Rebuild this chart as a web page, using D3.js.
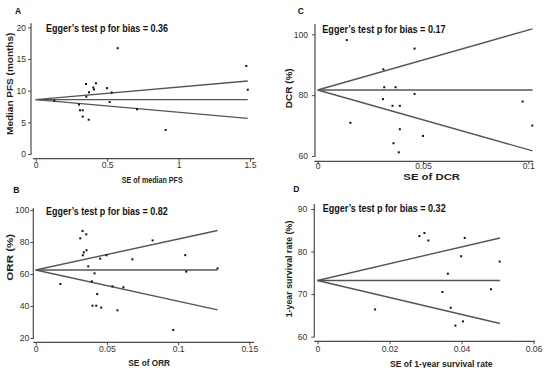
<!DOCTYPE html>
<html>
<head>
<meta charset="utf-8">
<script src="https://cdn.jsdelivr.net/npm/d3@7"></script>
<style>
body{margin:0;background:#fff;}
text{font-family:"Liberation Sans",Arial,sans-serif;}
</style>
</head>
<body>
<svg width="550" height="368"></svg>
<script>
// ---- data ----
// A: median PFS
var seA  = [0.574,1.474,1.484,0.352,0.422,0.373,0.403,0.408,0.499,0.354,0.532,0.518,0.130,0.303,0.310,0.329,0.329,0.371,0.709,0.910];
var pfsA = [16.7,13.9,10.15,11.05,11.16,9.74,10.5,10.2,10.4,9.05,9.7,8.2,8.42,7.8,6.9,6.9,5.9,5.42,7.05,3.8];
// B: ORR
var seB  = [0.0329,0.0355,0.0313,0.0357,0.0338,0.0331,0.0453,0.0497,0.0679,0.0821,0.105,0.1057,0.1277,0.0369,0.0413,0.0173,0.0394,0.0539,0.0616,0.0432,0.0399,0.0425,0.046,0.0574,0.0966];
var orrB = [86.9,84.8,82.3,74.8,73.5,71.7,69.6,71.7,69.2,81.0,71.8,61.5,63.5,64.8,60.4,53.75,55.4,52.3,51.7,47.5,40.2,40.2,39.0,37.3,25.0];
// C: DCR
var seC  = [0.0138,0.046,0.0312,0.0316,0.037,0.046,0.031,0.0355,0.039,0.0973,0.0155,0.1019,0.039,0.050,0.036,0.0385];
var dcrC = [98.1,95.3,88.5,82.6,82.6,80.4,78.7,76.5,76.5,77.9,70.9,70.0,68.8,66.6,64.2,61.2];
// D: 1-year survival
var seD  = [0.0283,0.0297,0.0308,0.0409,0.0399,0.0506,0.0362,0.0347,0.0482,0.016,0.037,0.0404,0.0383];
var osD  = [83.65,84.35,82.6,83.2,78.9,77.65,74.8,70.5,71.15,66.4,66.8,63.6,62.6];

var letters  = ["A","B","C","D"];
var eggerP   = ["0.36","0.82","0.17","0.32"];
var xTitles  = ["SE of median PFS","SE of ORR","SE of DCR","SE of 1-year survival rate"];
var yTitles  = ["Median PFS (months)","ORR (%)","DCR (%)","1-year survival rate (%)"];
var xTicksA = [0,0.5,1,1.5],     yTicksA = [0,5,10,15,20];
var xTicksB = [0,0.05,0.1,0.15], yTicksB = [20,40,60,80,100];
var xTicksC = [0,0.05,0.1],      yTicksC = [60,80,100];
var xTicksD = [0,0.02,0.04,0.06],yTicksD = [60,70,80,90];
// funnel: pooled estimate, upper / lower limit at the largest SE, largest SE
var pooledEst = [8.58,62.5,81.7,73.2];
var upperEnd  = [11.53,87.2,101.8,83.2];
var lowerEnd  = [5.63,37.6,61.7,63.1];
var seMax     = [1.484,0.1277,0.102,0.0507];

// ---- layout ----
var layout = [
  {xr:[35.7,250],   yr:[154,27.3],  ysx:31,    ys:[23.3,155],  xsy:158.7, xs:[33,254.3],    yPad:1, xLab:9.7,
   let:[15,14],     eg:[46,32.3,122],    xt:[152.2,183,61],   yt:[13,83.8,102.3], xtSize:9.5},
  {xr:[35.7,249.3], yr:[338,210],   ysx:33.3,  ys:[208,339],   xsy:342.3, xs:[33.3,254],    yPad:0, xLab:10,
   let:[13.3,193],  eg:[46,215,121.7],   xt:[149.2,365.7,41.7], yt:[12.5,257.3,46.7], xtSize:9.5},
  {xr:[317.7,528.3],yr:[156,34.3],  ysx:315,   ys:[24,157],    xsy:161.3, xs:[314.3,533.3], yPad:3, xLab:7.7,
   let:[297.7,14],  eg:[322.3,33.3,123.3], xt:[431.7,179.5,56.7], yt:[291.5,88.3,40], xtSize:9},
  {xr:[317.5,533.5],yr:[336.7,209], ysx:314.3, ys:[204,337.3], xsy:341.3, xs:[314.3,535],   yPad:3, xLab:11,
   let:[293.3,192.3], eg:[322.7,212.3,123], xt:[441.3,367,102.7], yt:[291.5,269,96.7], xtSize:9.5}
];

var panels = [
  {se:seA, val:pfsA, xt:xTicksA, yt:yTicksA},
  {se:seB, val:orrB, xt:xTicksB, yt:yTicksB},
  {se:seC, val:dcrC, xt:xTicksC, yt:yTicksC},
  {se:seD, val:osD,  xt:xTicksD, yt:yTicksD}
];

var svg = d3.select("svg");
var axisCol = "#4a4a4a";

panels.forEach(function(p, i)
{
  var L = layout[i];
  var xt = p.xt, yt = p.yt;
  var xScale = d3.scaleLinear().domain([xt[0], xt[xt.length-1]]).range(L.xr);
  var yScale = d3.scaleLinear().domain([yt[0], yt[yt.length-1]]).range(L.yr);

  var g = svg.append("g").classed("panel", true);

  // spines
  g.append("line").attr("x1", L.ysx).attr("x2", L.ysx).attr("y1", L.ys[0]).attr("y2", L.ys[1])
    .attr("stroke", axisCol).attr("stroke-width", 1.2);
  g.append("line").attr("x1", L.xs[0]).attr("x2", L.xs[1]).attr("y1", L.xsy).attr("y2", L.xsy)
    .attr("stroke", axisCol).attr("stroke-width", 1.2);

  // y axis
  var yAxis = g.append("g").attr("transform", "translate(" + L.ysx + ",0)")
    .call(d3.axisLeft(yScale).tickValues(yt).tickSize(3).tickPadding(L.yPad + 1).tickFormat(function(d){ return String(d); }));
  yAxis.select(".domain").remove();
  // x axis
  var xAxis = g.append("g").attr("transform", "translate(0," + L.xsy + ")")
    .call(d3.axisBottom(xScale).tickValues(xt).tickSize(3).tickFormat(function(d){ return String(d); }));
  xAxis.select(".domain").remove();
  xAxis.selectAll("text").attr("dy", null).attr("y", L.xLab);

  [yAxis, xAxis].forEach(function(a)
  {
    a.attr("font-family", null).attr("font-size", null);
    a.selectAll("line").attr("stroke", axisCol).attr("stroke-width", 1);
    a.selectAll("text").attr("fill", "#333").style("font-size", "8.6px");
  });

  // funnel lines
  var x0 = xScale(0), x1 = xScale(seMax[i]);
  [pooledEst[i], upperEnd[i], lowerEnd[i]].forEach(function(v)
  {
    g.append("line")
      .attr("x1", x0).attr("y1", yScale(pooledEst[i]))
      .attr("x2", x1).attr("y2", yScale(v))
      .attr("stroke", "#555").attr("stroke-width", 1.4);
  });

  // study points
  g.selectAll("rect.pt")
    .data(p.se.map(function(s, k){ return [s, p.val[k]]; }))
    .enter()
    .append("rect")
    .classed("pt", true)
    .attr("x", function(d){ return xScale(d[0]) - 1; })
    .attr("y", function(d){ return yScale(d[1]) - 1; })
    .attr("width", 2).attr("height", 2)
    .attr("fill", "#111");

  // texts
  g.append("text").attr("x", L.let[0]).attr("y", L.let[1])
    .attr("font-size", 8.5).attr("font-weight", "bold").attr("fill", "#111").text(letters[i]);

  g.append("text").attr("x", L.eg[0]).attr("y", L.eg[1])
    .attr("font-size", 10).attr("font-weight", "bold").attr("fill", "#111")
    .attr("textLength", L.eg[2]).attr("lengthAdjust", "spacingAndGlyphs")
    .text("Egger\u2019s test p for bias = " + eggerP[i]);

  g.append("text").attr("x", L.xt[0]).attr("y", L.xt[1])
    .attr("text-anchor", "middle")
    .attr("font-size", L.xtSize).attr("font-weight", "bold").attr("fill", "#222")
    .attr("textLength", L.xt[2]).attr("lengthAdjust", "spacingAndGlyphs")
    .text(xTitles[i]);

  g.append("text")
    .attr("transform", "translate(" + L.yt[0] + "," + L.yt[1] + ") rotate(-90)")
    .attr("text-anchor", "middle")
    .attr("font-size", 9.5).attr("font-weight", "bold").attr("fill", "#222")
    .attr("textLength", L.yt[2]).attr("lengthAdjust", "spacingAndGlyphs")
    .text(yTitles[i]);
});
</script>
</body>
</html>
